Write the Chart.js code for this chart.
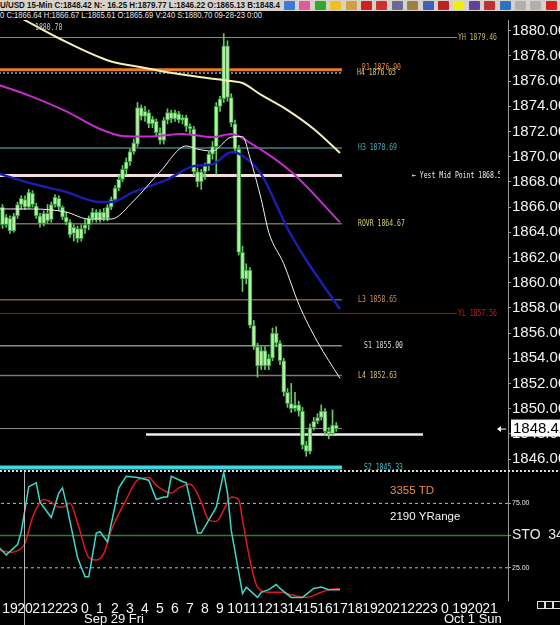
<!DOCTYPE html>
<html>
<head>
<meta charset="utf-8">
<title>XAU/USD 15-Min</title>
<script src="https://cdn.jsdelivr.net/npm/chart.js@4.4.0/dist/chart.umd.min.js"></script>
<style>
html, body { margin: 0; padding: 0; background: #000; }
body { position: relative; width: 560px; height: 625px; overflow: hidden; font-family: 'Liberation Sans', Arial, sans-serif; }
#topbar { position: absolute; left: 0; top: 0; width: 560px; height: 11px; background: #d6d2ca; }
#quote { position: absolute; left: 0; top: 0; font-weight: bold; font-size: 9px; line-height: 11px; color: #111; white-space: nowrap; transform-origin: 0 0; }
#barinfo { position: absolute; left: 0; top: 11px; font-size: 9px; line-height: 9px; color: #e6e6e6; white-space: nowrap; transform-origin: 0 0; }
.ico { position: absolute; top: 1px; width: 11px; height: 9px; border-radius: 1px; }
#price { position: absolute; left: 0; top: 20px; }
#sto { position: absolute; left: 0; top: 470px; }
.box { position: absolute; top: 601px; width: 6px; height: 6px; border: 1px solid #ddd; }
</style>
</head>
<body>
<div id="topbar"><div id="quote">U/USD 15-Min C:1848.42 N:- 16.25 H:1879.77 L:1846.22 O:1865.13 B:1848.4</div></div>
<div id="barinfo">0 C:1866.64 H:1866.67 L:1865.61 O:1865.69 V:240 S:1880.70 09-28-23 0:00</div>
<canvas id="price" width="560" height="450"></canvas>
<canvas id="sto" width="560" height="155"></canvas>
<div class="box" style="left:537px"></div>
<div class="box" style="left:545px"></div>
<div class="box" style="left:553px"></div>
<script>
// 15-min bars, time in hours from Sep 29 00:00
const firstBar = -5.5
const opens = [1866.0, 1864.6, 1865.1, 1864.1, 1865.3, 1866.2, 1866.6, 1866.0, 1867.1, 1866.1,
  1865.3, 1864.7, 1865.5, 1865.0, 1866.2, 1866.7, 1866.0, 1865.2, 1864.8, 1863.9,
  1864.3, 1863.5, 1864.3, 1864.6, 1865.1, 1865.6, 1865.0, 1865.6, 1865.1, 1866.0,
  1866.6, 1867.5, 1868.2, 1869.0, 1869.6, 1870.4, 1871.0, 1873.9, 1873.2, 1873.5,
  1872.6, 1872.8, 1871.9, 1871.3, 1872.9, 1873.5, 1873.0, 1873.4, 1872.9, 1873.1,
  1872.4, 1872.2, 1868.8, 1868.0, 1868.8, 1869.3, 1870.2, 1870.8, 1874.0, 1874.6,
  1878.8, 1874.7, 1872.6, 1870.6, 1862.4, 1860.3, 1861.0, 1856.6, 1854.9, 1853.4,
  1854.6, 1853.4, 1854.0, 1856.0, 1855.2, 1853.8, 1851.3, 1850.4, 1850.0, 1850.3,
  1849.8, 1847.1, 1846.6, 1848.5, 1849.0, 1849.3, 1849.8, 1848.2, 1848.0, 1848.7]
const highs = [1866.2, 1865.4, 1865.3, 1865.5, 1866.4, 1866.9, 1866.9, 1867.4, 1867.3, 1866.3,
  1865.5, 1865.7, 1866.2, 1866.4, 1867.0, 1866.9, 1866.1, 1865.6, 1865.0, 1864.6,
  1864.5, 1864.6, 1865.0, 1865.3, 1865.9, 1865.8, 1865.8, 1865.9, 1866.2, 1866.8,
  1867.7, 1868.5, 1869.3, 1869.9, 1870.6, 1871.4, 1874.3, 1874.1, 1874.0, 1873.7,
  1873.2, 1873.0, 1872.3, 1873.1, 1873.8, 1873.7, 1873.7, 1873.6, 1873.3, 1873.3,
  1872.6, 1872.4, 1869.1, 1869.0, 1869.5, 1870.4, 1871.2, 1874.3, 1874.8, 1879.77,
  1879.2, 1875.0, 1872.9, 1870.9, 1862.9, 1861.5, 1861.2, 1857.0, 1855.2, 1854.9,
  1854.9, 1854.3, 1856.4, 1856.5, 1855.4, 1854.0, 1851.6, 1852.0, 1851.3, 1850.6,
  1850.1, 1847.4, 1848.8, 1849.3, 1849.6, 1850.3, 1850.0, 1848.5, 1849.9, 1848.9]
const lows = [1864.3, 1864.4, 1863.9, 1864.0, 1865.1, 1865.8, 1865.8, 1865.9, 1866.0, 1865.1,
  1864.4, 1864.5, 1864.7, 1864.8, 1866.0, 1865.7, 1865.0, 1864.6, 1863.6, 1863.3,
  1863.2, 1863.3, 1863.9, 1864.2, 1864.8, 1864.8, 1864.8, 1864.9, 1864.9, 1865.8,
  1866.4, 1867.3, 1868.0, 1868.6, 1869.3, 1870.2, 1870.8, 1872.9, 1872.8, 1872.3,
  1872.3, 1871.6, 1871.0, 1871.0, 1872.6, 1872.7, 1872.8, 1872.7, 1872.6, 1872.0,
  1871.8, 1868.5, 1867.6, 1867.4, 1868.2, 1868.9, 1869.8, 1868.6, 1873.6, 1874.3,
  1874.4, 1872.4, 1870.3, 1862.2, 1859.3, 1859.9, 1856.4, 1854.7, 1852.5, 1853.1,
  1853.1, 1853.1, 1853.8, 1854.9, 1853.5, 1851.0, 1850.1, 1849.7, 1849.8, 1849.4,
  1846.8, 1846.22, 1846.4, 1848.3, 1848.8, 1849.1, 1847.9, 1847.6, 1847.9, 1848.2]
const closes = [1864.6, 1865.2, 1864.1, 1865.3, 1866.2, 1866.7, 1866.0, 1867.2, 1866.2, 1865.3,
  1864.7, 1865.5, 1864.9, 1866.2, 1866.8, 1866.0, 1865.2, 1864.8, 1863.8, 1864.4,
  1863.5, 1864.3, 1864.6, 1865.1, 1865.6, 1865.0, 1865.6, 1865.1, 1866.0, 1866.6,
  1867.5, 1868.2, 1869.0, 1869.6, 1870.4, 1871.1, 1873.9, 1873.2, 1873.6, 1872.6,
  1873.0, 1871.9, 1871.3, 1872.9, 1873.5, 1873.0, 1873.5, 1872.9, 1873.1, 1872.4,
  1872.2, 1868.8, 1868.0, 1868.8, 1869.3, 1870.2, 1870.8, 1874.0, 1874.6, 1878.8,
  1874.7, 1872.7, 1870.6, 1862.4, 1860.3, 1861.0, 1856.6, 1854.9, 1853.4, 1854.6,
  1853.4, 1854.0, 1856.0, 1855.2, 1853.8, 1851.3, 1850.4, 1850.0, 1850.3, 1849.8,
  1847.1, 1846.6, 1848.5, 1849.0, 1849.3, 1849.8, 1848.2, 1848.0, 1848.7, 1848.42]

// moving averages (time, price)
const maYellowT = [-4.25, -1.75, 1.75, 3.75, 5.5, 7.75, 9.75, 10.5, 11.75, 13.5, 15.25, 17]
const maYellowV = [1881.0, 1879.4, 1877.55, 1877.1, 1876.7, 1876.3, 1876.0, 1875.85, 1874.9, 1873.7, 1872.2, 1870.3]
const maMagT = [-5.75, -3.5, -1.25, 1.0, 2.5, 4.25, 6.5, 8.5, 9.75, 11.0, 13.75, 17]
const maMagV = [1875.7, 1874.75, 1873.6, 1872.2, 1871.65, 1871.6, 1871.8, 1871.55, 1871.8, 1871.1, 1868.8, 1864.8]
const maBlueT = [-5.75, -3.5, -1.25, 1.0, 1.75, 3.25, 5.5, 7.25, 8.5, 9.75, 10.25, 11.75, 13.5, 14.75, 17]
const maBlueV = [1868.65, 1867.85, 1867.2, 1866.4, 1866.4, 1867.2, 1868.2, 1869.25, 1869.4, 1870.35, 1870.25, 1868.6, 1864.3, 1861.8, 1857.9]
const maWhiteT = [-5.75, -3.5, -1.25, 0.25, 1.75, 3.25, 5.0, 6.75, 7.5, 8.5, 9.75, 10.5, 11.0, 11.75, 12.25, 13.25, 14.25, 15.5, 17]
const maWhiteV = [1865.85, 1865.85, 1865.6, 1865.05, 1865.05, 1866.5, 1868.8, 1870.85, 1870.6, 1870.45, 1871.55, 1871.6, 1869.9, 1866.6, 1864.0, 1861.5, 1858.3, 1855.3, 1852.4]

// pivot levels
const levelNames = ['YH', 'R1', 'H4', 'H3', 'Yest Mid Point', 'ROVR', 'L3', 'YL', 'S1', 'L4', 'S2']
const levelValues = [1879.46, 1876.90, 1876.65, 1870.69, 1868.51, 1864.67, 1858.65, 1857.56, 1855.00, 1852.63, 1845.33]
const lastPrice = 1848.42
const markLine = 1847.95
const topNote = '1880.70'

// stochastic (time, value)
const stoKT = [-5.75, -5.25, -4.5, -4.25, -3.75, -3.25, -3.0, -2.25, -1.75, -1.5, -1.25, -0.5, 0, 0.25, 0.75, 1.0, 1.5, 2.25, 2.75, 3.5,
  4.25, 4.75, 5.25, 5.5, 5.75, 6.5, 6.75, 7.5, 7.75, 8.25, 8.75, 9.25, 9.5, 9.75, 10.5, 10.75, 11.5, 11.75, 12.25, 12.75,
  13.0, 13.75, 14.5, 15.25, 15.75, 16.25, 17]
const stoKV = [41, 35, 43, 53, 88, 91, 76, 64, 83, 87, 75, 33, 18, 18, 52, 53, 45, 87, 96, 95,
  93, 78, 80, 80, 96, 92, 91, 52, 52, 62, 72, 99, 83, 54, 5, 10, 2, 6, 8, 12,
  9, 2, 2, 9, 10, 8, 8]
const stoDT = [-5.75, -5.0, -4.25, -4.0, -3.5, -2.75, -2.25, -1.75, -1.5, -1.0, -0.5, 0.25, 0.75, 1.25, 1.75, 2.75, 3.5, 4.25, 4.75, 5.75,
  6.25, 7.0, 7.75, 8.25, 8.75, 9.25, 9.75, 10.25, 10.5, 11.0, 11.5, 12.25, 12.75, 13.0, 13.75, 14.75, 15.75, 16.25, 17]
const stoDV = [39, 37, 40, 44, 64, 78, 76, 72, 72, 75, 60, 33, 31, 36, 54, 78, 93, 95, 89, 83,
  87, 90, 76, 62, 61, 70, 80, 78, 62, 31, 10, 6, 6, 6, 4, 2, 6, 8, 9]
const stoLevels = [25, 50, 75]
const stoTitle = 'STO  34'
const tdText = '3355 TD'
const rangeText = '2190 YRange'

// axes
const hourTicks = [-5, -4, -3, -2, -1, 0, 1, 2, 3, 4, 5, 6, 7, 8, 9, 10, 11, 12, 13, 14, 15, 16, 17, 18, 19, 20, 21, 22, 23, 24, 25, 26, 27]
const hourLabels = ['19', '20', '21', '22', '23', '0', '1', '2', '3', '4', '5', '6', '7', '8', '9', '10', '11', '12', '13', '14',
  '15', '16', '17', '18', '19', '20', '21', '22', '23', '0', '19', '20', '21']
const dayLabels = ['Sep 29 Fri', 'Oct 1 Sun']
const dayStarts = [0, 24]
const priceTicks = [1846, 1847, 1848, 1849, 1850, 1851, 1852, 1853, 1854, 1855, 1856, 1857, 1858, 1859, 1860, 1861, 1862,
  1863, 1864, 1865, 1866, 1867, 1868, 1869, 1870, 1871, 1872, 1873, 1874, 1875, 1876, 1877, 1878, 1879, 1880]

// ---- look ----
const tMin = -5.667, tMax = 28.2
const priceMin = 1845.13, priceMax = 1880.85
const stoMax = 100.9
const axisW = 52
const levelEnd = 17.13
const levelStyle = {
  'YH':             {color: '#9c8a48', width: 1,   end: 24.8, text: '#c9b468', lx: 458},
  'R1':             {color: '#f07a22', width: 3,   end: levelEnd, text: '#e8803a', lx: 362, dy: -2},
  'H4':             {color: '#5a86a8', width: 2,   end: levelEnd, text: '#d8cc70', lx: 357, dash: [2, 2]},
  'H3':             {color: '#3f7f80', width: 1.5, end: levelEnd, text: '#3fb0b8', lx: 358},
  'Yest Mid Point': {color: '#f2dede', width: 3,   end: levelEnd, text: '#f0f0f0', lx: 412},
  'ROVR':           {color: '#77704a', width: 1.5, end: levelEnd, text: '#d8d070', lx: 358},
  'L3':             {color: '#7c5a46', width: 1.5, end: levelEnd, text: '#d09058', lx: 358},
  'YL':             {color: '#a01212', width: 1,   end: 24.8, text: '#c82020', lx: 458},
  'S1':             {color: '#8c8c8c', width: 1.5, end: levelEnd, text: '#dcdcdc', lx: 364},
  'L4':             {color: '#7e7a64', width: 1.5, end: levelEnd, text: '#d8c070', lx: 358},
  'S2':             {color: '#3fd8e0', width: 4,   end: levelEnd, text: '#3fc0c8', lx: 364}
}

Chart.defaults.font.family = "'Liberation Sans', Arial, sans-serif"
Chart.defaults.color = '#f0f0f0'

const pts = (ts, vs) => ts.map((t, i) => ({x: t, y: vs[i]}))
const flat = (v, a, b) => [{x: a, y: v}, {x: b, y: v}]
// fixed axis width, and no extra room for labels that stick out
const fixWidth = s => { s.width = axisW; s.paddingTop = 0; s.paddingBottom = 0 }
const noPad = s => { s.paddingLeft = 0; s.paddingRight = 0 }
const lineDs = (data, color, width, extra) => Object.assign({
  type: 'line', data, borderColor: color, borderWidth: width, pointRadius: 0, fill: false,
  cubicInterpolationMode: 'monotone', order: 0
}, extra || {})

const barTimes = closes.map((c, i) => firstBar + i * 0.25)
const wickData = barTimes.map((t, i) => ({x: t, y: [lows[i], highs[i]]}))
const bodyData = barTimes.map((t, i) => ({x: t, y: [opens[i], closes[i]]}))

const levelDatasets = levelNames.map((name, i) => {
  const st = levelStyle[name]
  return lineDs(flat(levelValues[i], -6, st.end), st.color, st.width, {order: 4, borderDash: st.dash || []})
})
levelDatasets.push(lineDs(flat(lastPrice, -6, levelEnd), '#8e8e8e', 1, {order: 4}))
levelDatasets.push(lineDs(flat(markLine, 4.07, 22.53), '#ececec', 2.5, {order: 4}))

const priceOverlay = {
  id: 'priceOverlay',
  afterDraw(chart) {
    const {ctx, chartArea, scales: {x, y}} = chart
    ctx.save()
    ctx.beginPath()
    ctx.rect(0, 0, chartArea.right - 8, chart.height)
    ctx.clip()
    ctx.font = "9px 'DejaVu Sans Mono'"
    ctx.textBaseline = 'middle'
    levelNames.forEach((name, i) => {
      const st = levelStyle[name]
      const v = levelValues[i]
      const txt = name === 'Yest Mid Point' ? '\u2190 Yest Mid Point ' + v.toFixed(2) : name + ' ' + v.toFixed(2)
      ctx.save()
      ctx.translate(st.lx, y.getPixelForValue(v) + (st.dy || 0))
      ctx.scale(0.72, 1)
      ctx.fillStyle = st.text
      ctx.fillText(txt, 0, 0)
      ctx.restore()
    })
    ctx.save()
    ctx.translate(35, 8)
    ctx.scale(0.72, 1)
    ctx.fillStyle = '#c8c8c8'
    ctx.fillText(topNote, 0, 0)
    ctx.restore()
    ctx.restore()

    // last price box on the axis
    const py = y.getPixelForValue(lastPrice)
    ctx.save()
    ctx.fillStyle = '#ffffff'
    ctx.fillRect(chartArea.right + 3, py - 9, 60, 17)
    ctx.fillStyle = '#000'
    ctx.font = "15px 'Liberation Sans'"
    ctx.textBaseline = 'middle'
    ctx.fillText(lastPrice.toFixed(2), chartArea.right + 5, py)
    ctx.strokeStyle = '#ffffff'
    ctx.fillStyle = '#ffffff'
    ctx.lineWidth = 1
    ctx.beginPath()
    ctx.moveTo(chartArea.right - 9, py + 0.5)
    ctx.lineTo(chartArea.right - 2, py + 0.5)
    ctx.stroke()
    ctx.beginPath()
    ctx.moveTo(chartArea.right - 11, py + 0.5)
    ctx.lineTo(chartArea.right - 7, py - 2.5)
    ctx.lineTo(chartArea.right - 7, py + 3.5)
    ctx.closePath()
    ctx.fill()
    ctx.restore()
  }
}

new Chart(document.getElementById('price'), {
  type: 'bar',
  data: {
    datasets: [
      lineDs(pts(maWhiteT, maWhiteV), '#f2f2f2', 1),
      lineDs(pts(maYellowT, maYellowV), '#f5f0b4', 2),
      lineDs(pts(maMagT, maMagV), '#c42ccc', 2),
      lineDs(pts(maBlueT, maBlueV), '#1c1cb0', 2.5),
      {type: 'bar', data: bodyData, backgroundColor: '#b4f0a2', borderColor: '#2f9a3c', borderWidth: 1,
        borderSkipped: false, barThickness: 4, grouped: false, minBarLength: 1, order: 2},
      {type: 'bar', data: wickData, backgroundColor: '#66c866', barThickness: 1, grouped: false, order: 3},
      ...levelDatasets
    ]
  },
  options: {
    responsive: false,
    devicePixelRatio: 1,
    animation: false,
    layout: {padding: 0},
    plugins: {legend: {display: false}, tooltip: {enabled: false}},
    scales: {
      x: {type: 'linear', min: tMin, max: tMax, display: false, offset: false},
      y: {
        position: 'right', min: priceMin, max: priceMax,
        afterFit: fixWidth,
        afterBuildTicks: s => { s.ticks = priceTicks.map(v => ({value: v})) },
        ticks: {callback: v => (v % 2 === 0 ? v.toFixed(2) : ''), font: {size: 15}, color: '#f2f2f2', padding: 1},
        grid: {drawOnChartArea: false, tickLength: 3, color: '#9a9a9a'},
        border: {color: '#9a9a9a'}
      }
    }
  },
  plugins: [priceOverlay]
})

const stoOverlay = {
  id: 'stoOverlay',
  afterDraw(chart) {
    const {ctx, scales: {x}} = chart
    ctx.save()
    ctx.strokeStyle = '#d8d8d8'
    ctx.lineWidth = 2
    ctx.setLineDash([2, 2])
    ctx.beginPath()
    ctx.moveTo(0, 1)
    ctx.lineTo(chart.width, 1)
    ctx.stroke()
    ctx.setLineDash([])
    ctx.strokeStyle = '#b8b8b8'
    ctx.lineWidth = 1
    const sx = Math.round(x.getPixelForValue(-4.07)) + 0.5
    ctx.beginPath()
    ctx.moveTo(sx, 2)
    ctx.lineTo(sx, chart.height)
    ctx.stroke()
    ctx.textBaseline = 'middle'
    ctx.font = "11.5px 'Liberation Sans'"
    ctx.fillStyle = '#f08a40'
    ctx.fillText(tdText, 390, 21)
    ctx.fillStyle = '#f4f4f4'
    ctx.fillText(rangeText, 390, 47)
    ctx.font = "13px 'Liberation Sans'"
    dayLabels.forEach((d, i) => {
      ctx.fillText(d, x.getPixelForValue(dayStarts[i]) - 1, 149)
    })
    ctx.restore()
  }
}

new Chart(document.getElementById('sto'), {
  type: 'line',
  data: {
    datasets: [
      lineDs(pts(stoKT, stoKV), '#3fd6c8', 1.5, {cubicInterpolationMode: 'default', tension: 0}),
      lineDs(pts(stoDT, stoDV), '#e01a1a', 1.5, {order: 1}),
      ...stoLevels.map(v => lineDs(flat(v, -6, 30), v === 50 ? '#2e7d2e' : '#bdbdbd', v === 50 ? 1.5 : 1,
        {order: 2, borderDash: v === 50 ? [] : [3, 3]}))
    ]
  },
  options: {
    responsive: false,
    devicePixelRatio: 1,
    animation: false,
    layout: {padding: 0},
    plugins: {legend: {display: false}, tooltip: {enabled: false}},
    scales: {
      x: {
        type: 'linear', min: tMin, max: tMax, offset: false,
        afterFit: s => { s.height = 25; noPad(s) },
        afterBuildTicks: s => { s.ticks = hourTicks.map(v => ({value: v})) },
        ticks: {autoSkip: false, maxRotation: 0, minRotation: 0, padding: 1, font: {size: 14}, color: '#f4f4f4',
          callback: (v, i) => hourLabels[i]},
        grid: {display: false, drawTicks: false},
        border: {display: false}
      },
      y: {
        position: 'right', min: 0, max: stoMax,
        afterFit: fixWidth,
        afterBuildTicks: s => { s.ticks = stoLevels.map(v => ({value: v})) },
        ticks: {
          callback: v => (v === 50 ? stoTitle : v.toFixed(2)),
          font: c => ({size: c.tick && c.tick.value === 50 ? 14 : 7}),
          color: '#e8e8e8', padding: 1
        },
        grid: {drawOnChartArea: false, tickLength: 3, color: '#9a9a9a'},
        border: {color: '#9a9a9a'}
      }
    }
  },
  plugins: [stoOverlay]
})

// header text fit + toolbar icons
const fit = (id, w) => {
  const el = document.getElementById(id)
  el.style.transform = 'scaleX(' + (w / el.getBoundingClientRect().width) + ')'
}
fit('quote', 280)
fit('barinfo', 262)
const icoColors = ['#3a7bd5', '#e05a9a', '#2eaa2e', '#f0c020', '#d0a040', '#d02020', '#d03030', '#6a6a9a', '#a08040',
  '#4060c0', '#c02020', '#f0f000', '#6040a0', '#c03030', '#3070c0', '#b0b0b0', '#b0b0b0', '#d02020']
const bar = document.getElementById('topbar')
icoColors.forEach((c, i) => {
  const d = document.createElement('div')
  d.className = 'ico'
  d.style.left = (284 + i * 15.4) + 'px'
  d.style.background = c
  bar.appendChild(d)
})
</script>
</body>
</html>
